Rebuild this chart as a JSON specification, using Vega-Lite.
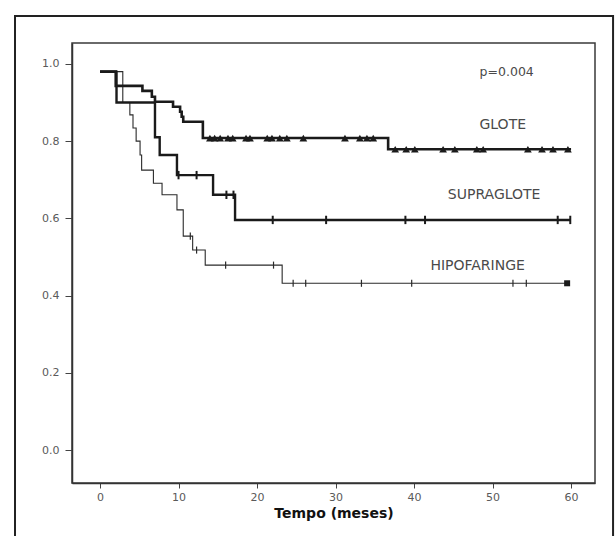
{
  "$schema": "https://vega.github.io/schema/vega-lite/v6.json",
  "width": 523,
  "height": 440,
  "autosize": {"type": "none"},
  "padding": {"left": 72, "top": 43, "right": 20, "bottom": 53},
  "background": "white",
  "config": {
    "view": {"stroke": "#3a3a3a", "strokeWidth": 1.5},
    "font": "DejaVu Sans"
  },
  "datasets": {
    "curvas": [
      {"grupo": "GLOTE", "t": 0, "s": 0.98},
      {"grupo": "GLOTE", "t": 2.0, "s": 0.943},
      {"grupo": "GLOTE", "t": 5.4, "s": 0.93},
      {"grupo": "GLOTE", "t": 6.6, "s": 0.915},
      {"grupo": "GLOTE", "t": 7.0, "s": 0.902},
      {"grupo": "GLOTE", "t": 9.3, "s": 0.889},
      {"grupo": "GLOTE", "t": 10.2, "s": 0.876},
      {"grupo": "GLOTE", "t": 10.4, "s": 0.863},
      {"grupo": "GLOTE", "t": 10.6, "s": 0.85},
      {"grupo": "GLOTE", "t": 13.1, "s": 0.808},
      {"grupo": "GLOTE", "t": 36.7, "s": 0.779},
      {"grupo": "GLOTE", "t": 60.0, "s": 0.779},
      {"grupo": "SUPRAGLOTE", "t": 0, "s": 0.98},
      {"grupo": "SUPRAGLOTE", "t": 2.1, "s": 0.90},
      {"grupo": "SUPRAGLOTE", "t": 7.0, "s": 0.81},
      {"grupo": "SUPRAGLOTE", "t": 7.6, "s": 0.764},
      {"grupo": "SUPRAGLOTE", "t": 9.8, "s": 0.712},
      {"grupo": "SUPRAGLOTE", "t": 14.4, "s": 0.661},
      {"grupo": "SUPRAGLOTE", "t": 17.2, "s": 0.596},
      {"grupo": "SUPRAGLOTE", "t": 59.9, "s": 0.596},
      {"grupo": "HIPOFARINGE", "t": 0, "s": 0.98},
      {"grupo": "HIPOFARINGE", "t": 2.9, "s": 0.90},
      {"grupo": "HIPOFARINGE", "t": 3.8, "s": 0.868},
      {"grupo": "HIPOFARINGE", "t": 4.2, "s": 0.834},
      {"grupo": "HIPOFARINGE", "t": 4.6, "s": 0.80},
      {"grupo": "HIPOFARINGE", "t": 5.1, "s": 0.764},
      {"grupo": "HIPOFARINGE", "t": 5.3, "s": 0.725},
      {"grupo": "HIPOFARINGE", "t": 6.8, "s": 0.691},
      {"grupo": "HIPOFARINGE", "t": 7.9, "s": 0.661},
      {"grupo": "HIPOFARINGE", "t": 9.8, "s": 0.622},
      {"grupo": "HIPOFARINGE", "t": 10.6, "s": 0.554},
      {"grupo": "HIPOFARINGE", "t": 11.8, "s": 0.518},
      {"grupo": "HIPOFARINGE", "t": 13.4, "s": 0.479},
      {"grupo": "HIPOFARINGE", "t": 23.2, "s": 0.432},
      {"grupo": "HIPOFARINGE", "t": 59.5, "s": 0.432}
    ],
    "censuras": [
      {"grupo": "GLOTE", "t": 14.0, "s": 0.808},
      {"grupo": "GLOTE", "t": 14.6, "s": 0.808},
      {"grupo": "GLOTE", "t": 15.3, "s": 0.808},
      {"grupo": "GLOTE", "t": 16.3, "s": 0.808},
      {"grupo": "GLOTE", "t": 16.9, "s": 0.808},
      {"grupo": "GLOTE", "t": 18.6, "s": 0.808},
      {"grupo": "GLOTE", "t": 19.1, "s": 0.808},
      {"grupo": "GLOTE", "t": 21.3, "s": 0.808},
      {"grupo": "GLOTE", "t": 21.9, "s": 0.808},
      {"grupo": "GLOTE", "t": 22.9, "s": 0.808},
      {"grupo": "GLOTE", "t": 23.8, "s": 0.808},
      {"grupo": "GLOTE", "t": 25.9, "s": 0.808},
      {"grupo": "GLOTE", "t": 31.2, "s": 0.808},
      {"grupo": "GLOTE", "t": 33.1, "s": 0.808},
      {"grupo": "GLOTE", "t": 34.0, "s": 0.808},
      {"grupo": "GLOTE", "t": 34.8, "s": 0.808},
      {"grupo": "GLOTE", "t": 37.6, "s": 0.779},
      {"grupo": "GLOTE", "t": 39.0, "s": 0.779},
      {"grupo": "GLOTE", "t": 40.1, "s": 0.779},
      {"grupo": "GLOTE", "t": 43.7, "s": 0.779},
      {"grupo": "GLOTE", "t": 45.2, "s": 0.779},
      {"grupo": "GLOTE", "t": 48.0, "s": 0.779},
      {"grupo": "GLOTE", "t": 48.8, "s": 0.779},
      {"grupo": "GLOTE", "t": 54.5, "s": 0.779},
      {"grupo": "GLOTE", "t": 56.3, "s": 0.779},
      {"grupo": "GLOTE", "t": 57.7, "s": 0.779},
      {"grupo": "GLOTE", "t": 59.6, "s": 0.779},
      {"grupo": "SUPRAGLOTE", "t": 10.0, "s": 0.712},
      {"grupo": "SUPRAGLOTE", "t": 12.3, "s": 0.712},
      {"grupo": "SUPRAGLOTE", "t": 16.1, "s": 0.661},
      {"grupo": "SUPRAGLOTE", "t": 17.0, "s": 0.661},
      {"grupo": "SUPRAGLOTE", "t": 22.0, "s": 0.596},
      {"grupo": "SUPRAGLOTE", "t": 28.8, "s": 0.596},
      {"grupo": "SUPRAGLOTE", "t": 38.9, "s": 0.596},
      {"grupo": "SUPRAGLOTE", "t": 41.4, "s": 0.596},
      {"grupo": "SUPRAGLOTE", "t": 58.3, "s": 0.596},
      {"grupo": "SUPRAGLOTE", "t": 59.9, "s": 0.596},
      {"grupo": "HIPOFARINGE", "t": 11.5, "s": 0.554},
      {"grupo": "HIPOFARINGE", "t": 12.3, "s": 0.518},
      {"grupo": "HIPOFARINGE", "t": 16.0, "s": 0.479},
      {"grupo": "HIPOFARINGE", "t": 22.1, "s": 0.479},
      {"grupo": "HIPOFARINGE", "t": 24.6, "s": 0.432},
      {"grupo": "HIPOFARINGE", "t": 26.2, "s": 0.432},
      {"grupo": "HIPOFARINGE", "t": 33.3, "s": 0.432},
      {"grupo": "HIPOFARINGE", "t": 39.7, "s": 0.432},
      {"grupo": "HIPOFARINGE", "t": 52.6, "s": 0.432},
      {"grupo": "HIPOFARINGE", "t": 54.3, "s": 0.432},
      {"grupo": "HIPOFARINGE", "t": 59.5, "s": 0.432}
    ],
    "rotulos": [
      {"texto": "GLOTE", "t": 51.3, "s": 0.842},
      {"texto": "SUPRAGLOTE", "t": 50.2, "s": 0.661},
      {"texto": "HIPOFARINGE", "t": 48.1, "s": 0.477}
    ],
    "teste": [
      {"texto": "p=0.004", "t": 51.8, "s": 0.979}
    ]
  },
  "layer": [
    {
      "data": {"name": "curvas"},
      "transform": [{"filter": "datum.grupo === 'HIPOFARINGE'"}],
      "mark": {"type": "line", "interpolate": "step-after", "color": "#2a2a2a", "strokeWidth": 1.1},
      "encoding": {
        "x": {
          "field": "t",
          "type": "quantitative",
          "scale": {"domain": [-3.57, 63.05], "nice": false, "zero": false},
          "axis": {
            "values": [0, 10, 20, 30, 40, 50, 60],
            "title": "Tempo (meses)",
            "titleFont": "DejaVu Sans",
            "titleFontWeight": "bold",
            "titleFontSize": 14,
            "titleColor": "#111111",
            "titlePadding": 4,
            "labelFont": "DejaVu Sans",
            "labelFontSize": 11,
            "labelColor": "#5a5a5a",
            "labelPadding": 3,
            "tickColor": "#444444",
            "tickSize": 5,
            "domainColor": "#333333",
            "domainWidth": 1.5,
            "grid": false
          }
        },
        "y": {
          "field": "s",
          "type": "quantitative",
          "scale": {"domain": [-0.085, 1.054], "nice": false, "zero": false},
          "axis": {
            "values": [0, 0.2, 0.4, 0.6, 0.8, 1.0],
            "format": ".1f",
            "title": null,
            "labelFont": "DejaVu Sans",
            "labelFontSize": 11,
            "labelColor": "#5a5a5a",
            "labelPadding": 6,
            "tickColor": "#444444",
            "tickSize": 7,
            "domainColor": "#333333",
            "domainWidth": 1.5,
            "grid": false
          }
        }
      }
    },
    {
      "data": {"name": "curvas"},
      "transform": [{"filter": "datum.grupo === 'SUPRAGLOTE'"}],
      "mark": {"type": "line", "interpolate": "step-after", "color": "#1a1a1a", "strokeWidth": 2.4},
      "encoding": {
        "x": {"field": "t", "type": "quantitative"},
        "y": {"field": "s", "type": "quantitative"}
      }
    },
    {
      "data": {"name": "curvas"},
      "transform": [{"filter": "datum.grupo === 'GLOTE'"}],
      "mark": {"type": "line", "interpolate": "step-after", "color": "#1a1a1a", "strokeWidth": 2.6},
      "encoding": {
        "x": {"field": "t", "type": "quantitative"},
        "y": {"field": "s", "type": "quantitative"}
      }
    },
    {
      "data": {"name": "censuras"},
      "transform": [{"filter": "datum.grupo === 'GLOTE'"}],
      "mark": {"type": "point", "shape": "triangle-up", "filled": true, "color": "#1a1a1a", "size": 60, "opacity": 1},
      "encoding": {
        "x": {"field": "t", "type": "quantitative"},
        "y": {"field": "s", "type": "quantitative"}
      }
    },
    {
      "data": {"name": "censuras"},
      "transform": [{"filter": "datum.grupo === 'SUPRAGLOTE'"}],
      "mark": {"type": "point", "shape": "M0,-1L0,1", "filled": false, "color": "#1a1a1a", "strokeWidth": 2, "size": 70, "opacity": 1},
      "encoding": {
        "x": {"field": "t", "type": "quantitative"},
        "y": {"field": "s", "type": "quantitative"}
      }
    },
    {
      "data": {"name": "censuras"},
      "transform": [{"filter": "datum.grupo === 'HIPOFARINGE' && datum.t < 59"}],
      "mark": {"type": "point", "shape": "M0,-1L0,1", "filled": false, "color": "#2a2a2a", "strokeWidth": 1.2, "size": 50, "opacity": 1},
      "encoding": {
        "x": {"field": "t", "type": "quantitative"},
        "y": {"field": "s", "type": "quantitative"}
      }
    },
    {
      "data": {"name": "censuras"},
      "transform": [{"filter": "datum.grupo === 'HIPOFARINGE' && datum.t >= 59"}],
      "mark": {"type": "point", "shape": "square", "filled": true, "color": "#1a1a1a", "size": 36, "opacity": 1},
      "encoding": {
        "x": {"field": "t", "type": "quantitative"},
        "y": {"field": "s", "type": "quantitative"}
      }
    },
    {
      "data": {"name": "rotulos"},
      "mark": {"type": "text", "align": "center", "baseline": "middle", "font": "DejaVu Sans", "fontSize": 14, "color": "#4a4a4a"},
      "encoding": {
        "x": {"field": "t", "type": "quantitative"},
        "y": {"field": "s", "type": "quantitative"},
        "text": {"field": "texto"}
      }
    },
    {
      "data": {"name": "teste"},
      "mark": {"type": "text", "align": "center", "baseline": "middle", "font": "DejaVu Sans", "fontSize": 12.5, "color": "#4a4a4a"},
      "encoding": {
        "x": {"field": "t", "type": "quantitative"},
        "y": {"field": "s", "type": "quantitative"},
        "text": {"field": "texto"}
      }
    },
    {
      "data": {"values": [{}]},
      "mark": {"type": "rect", "fill": "transparent", "stroke": "#222222", "strokeWidth": 2, "clip": false},
      "encoding": {
        "x": {"datum": -10.83, "type": "quantitative"},
        "x2": {"datum": 65.35},
        "y": {"datum": 1.124, "type": "quantitative"},
        "y2": {"datum": -0.233}
      }
    }
  ]
}
